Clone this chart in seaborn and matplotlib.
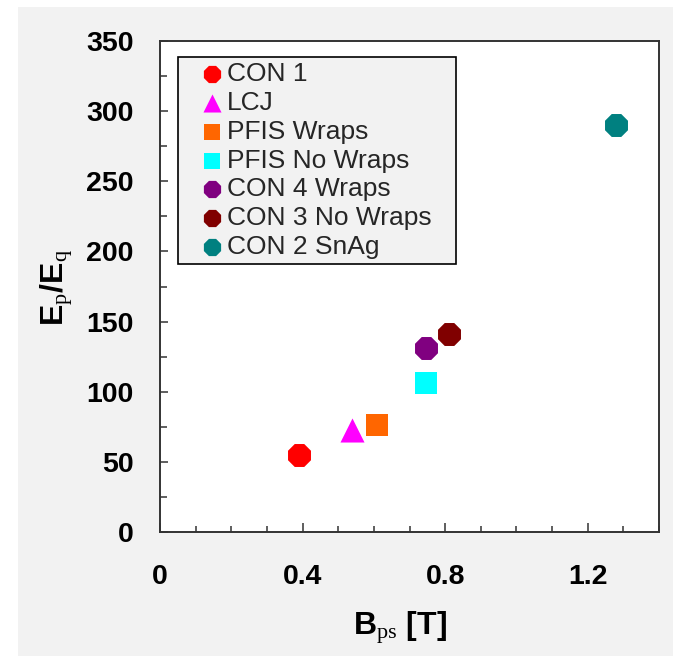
import matplotlib
matplotlib.use("Agg")
import matplotlib.pyplot as plt
from matplotlib.patches import Rectangle
from matplotlib.ticker import MultipleLocator
import seaborn as sns
import pandas as pd

# ---- data ----
names = ["CON 1", "LCJ", "PFIS Wraps", "PFIS No Wraps", "CON 4 Wraps", "CON 3 No Wraps", "CON 2 SnAg"]
b_ps = [0.39, 0.538, 0.609, 0.746, 0.746, 0.81, 1.279]
ep_eq = [55, 73, 76, 106, 131, 141, 290]
colors = ["#ff0000", "#ff00ff", "#ff6600", "#00ffff", "#800080", "#800000", "#008080"]
markers = ["8", "^", "s", "s", "8", "8", "8"]
msizes = [320, 300, 262, 262, 320, 320, 320]

x_ticks = [0, 0.4, 0.8, 1.2]
x_tick_labels = ["0", "0.4", "0.8", "1.2"]
y_ticks = [0, 50, 100, 150, 200, 250, 300, 350]

sns.set_theme(style="white")
plt.rcParams["font.family"] = ["Liberation Sans", "DejaVu Sans"]
plt.rcParams["mathtext.fontset"] = "custom"
plt.rcParams["mathtext.rm"] = "Liberation Serif"
plt.rcParams["mathtext.it"] = "Liberation Serif:italic"
plt.rcParams["mathtext.bf"] = "Liberation Sans:bold"

W, H = 673, 656
fig = plt.figure(figsize=(W / 100, H / 100), dpi=100, facecolor="white")
fig.patches.append(Rectangle((18 / W, 0), 1 - 18 / W, 1 - 7 / H, transform=fig.transFigure,
                             facecolor="#f2f2f2", edgecolor="none", zorder=-10))

ax_l, ax_r, ax_t, ax_b = 160, 659, 41, 532
ax = fig.add_axes([ax_l / W, (H - ax_b) / H, (ax_r - ax_l) / W, (ax_b - ax_t) / H])
ax.set_facecolor("white")

df = pd.DataFrame({"name": names, "x": b_ps, "y": ep_eq})
for i, n in enumerate(names):
    sub = df[df["name"] == n]
    sns.scatterplot(data=sub, x="x", y="y", ax=ax, marker=markers[i], color=colors[i],
                    s=msizes[i], linewidth=0, label=n, zorder=3)

ax.set_xlim(0, 1.4)
ax.set_ylim(0, 350)
ax.set_xticks(x_ticks)
ax.set_xticklabels(x_tick_labels)
ax.set_yticks(y_ticks)
ax.xaxis.set_minor_locator(MultipleLocator(0.1))
ax.yaxis.set_minor_locator(MultipleLocator(25))

ax.tick_params(axis="x", which="major", direction="in", length=6.5, width=1.1, color="#333333",
               pad=23, labelsize=20.5)
ax.tick_params(axis="x", which="minor", direction="in", length=4.5, width=1.1, color="#333333")
ax.tick_params(axis="y", which="major", direction="in", length=6, width=1.1, color="#333333",
               pad=19, labelsize=20.5)
ax.tick_params(axis="y", which="minor", direction="in", length=5, width=1.1, color="#333333")
ax.tick_params(bottom=True, left=True, which="both")
for lab in ax.get_xticklabels() + ax.get_yticklabels():
    lab.set_fontweight("bold")
    lab.set_color("black")

for sp in ax.spines.values():
    sp.set_visible(True)
    sp.set_color("#333333")
    sp.set_linewidth(1.4)

ax.set_xlabel(r"$\mathbf{B}_{\mathrm{ps}}$ [T]", fontsize=23, fontweight="bold", color="black")
ax.set_ylabel(r"$\mathbf{E}_{\mathrm{p}}\mathbf{/E}_{\mathrm{q}}$", fontsize=23, fontweight="bold",
              color="black")
ax.xaxis.set_label_coords((400 - ax_l) / (ax_r - ax_l), (ax_b - 628) / (ax_b - ax_t))
ax.xaxis.label.set_va("center")
ax.yaxis.set_label_coords((57 - ax_l) / (ax_r - ax_l), (ax_b - 288) / (ax_b - ax_t))
ax.yaxis.label.set_va("center")

leg_l, leg_t, leg_r = 178, 57, 456
bb_h = 0.01
leg = ax.legend(loc="upper left",
                bbox_to_anchor=((leg_l - ax_l) / (ax_r - ax_l),
                                (ax_b - leg_t) / (ax_b - ax_t) - bb_h,
                                (leg_r - leg_l) / (ax_r - ax_l), bb_h),
                mode="expand", borderaxespad=0, fontsize=19, markerscale=0.75,
                frameon=True, fancybox=False, facecolor="#f2f2f2", edgecolor="black",
                framealpha=1, borderpad=0.2, labelspacing=0.18, handlelength=2.2,
                handletextpad=-0.55)
leg.get_frame().set_linewidth(1.2)

fig.savefig("out.png", dpi=100, facecolor=fig.get_facecolor())
